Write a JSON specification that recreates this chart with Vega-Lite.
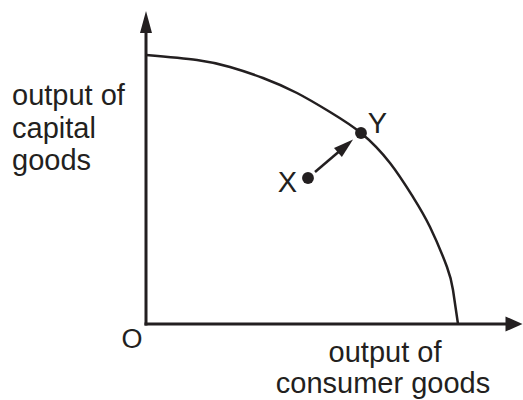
{
  "$schema": "https://vega.github.io/schema/vega-lite/v6.json",
  "width": 523,
  "height": 400,
  "padding": 0,
  "autosize": {"type": "none"},
  "background": "white",
  "config": {"view": {"stroke": null}},
  "datasets": {
    "axes": [{"x": 0, "y": 0, "x2": 0, "y2": 295}, {"x": 0, "y": 0, "x2": 365, "y2": 0}],
    "vhead": [{"x": 0, "y": 302}],
    "hhead": [{"x": 368, "y": 0}],
    "curve": [
      {"x": 0, "y": 269}, {"x": 51, "y": 264}, {"x": 84, "y": 257}, {"x": 117, "y": 246},
      {"x": 151, "y": 231}, {"x": 184, "y": 212}, {"x": 215, "y": 191}, {"x": 244, "y": 161},
      {"x": 267, "y": 127}, {"x": 284, "y": 97}, {"x": 301, "y": 57}, {"x": 307, "y": 34},
      {"x": 312, "y": 0}
    ],
    "move": [{"x": 169, "y": 152, "x2": 199.5, "y2": 178}],
    "movehead": [{"x": 199.5, "y": 178}],
    "points": [{"label": "X", "x": 162, "y": 146}, {"label": "Y", "x": 215, "y": 191}],
    "leftlabels": [
      {"text": "output of", "x": -134, "y": 219},
      {"text": "capital", "x": -134, "y": 186.5},
      {"text": "goods", "x": -134, "y": 154}
    ],
    "centerlabels": [
      {"text": "output of", "x": 239, "y": -38},
      {"text": "consumer goods", "x": 237, "y": -69},
      {"text": "X", "x": 141.5, "y": 132},
      {"text": "Y", "x": 231.5, "y": 191}
    ],
    "origin": [{"text": "O", "x": -14, "y": -24}]
  },
  "layer": [
    {
      "data": {"name": "axes"},
      "mark": {"type": "rule", "strokeWidth": 3, "color": "#231f20", "strokeCap": "square"},
      "encoding": {
        "x": {"field": "x", "type": "quantitative", "scale": {"domain": [-146, 377], "nice": false, "zero": false}, "axis": null},
        "y": {"field": "y", "type": "quantitative", "scale": {"domain": [-76, 324], "nice": false, "zero": false}, "axis": null},
        "x2": {"field": "x2"},
        "y2": {"field": "y2"}
      }
    },
    {
      "data": {"name": "vhead"},
      "mark": {"type": "point", "filled": true, "opacity": 1, "color": "#231f20", "shape": "M0,-1L0.545,1L-0.545,1Z", "size": 484},
      "encoding": {
        "x": {"field": "x", "type": "quantitative"},
        "y": {"field": "y", "type": "quantitative"}
      }
    },
    {
      "data": {"name": "hhead"},
      "mark": {"type": "point", "filled": true, "opacity": 1, "color": "#231f20", "shape": "M1,0L-1,-0.88L-1,0.88Z", "size": 289},
      "encoding": {
        "x": {"field": "x", "type": "quantitative"},
        "y": {"field": "y", "type": "quantitative"}
      }
    },
    {
      "data": {"name": "curve"},
      "mark": {"type": "line", "strokeWidth": 2.5, "color": "#231f20", "interpolate": "natural"},
      "encoding": {
        "x": {"field": "x", "type": "quantitative"},
        "y": {"field": "y", "type": "quantitative"}
      }
    },
    {
      "data": {"name": "move"},
      "mark": {"type": "rule", "strokeWidth": 2.5, "color": "#231f20"},
      "encoding": {
        "x": {"field": "x", "type": "quantitative"},
        "y": {"field": "y", "type": "quantitative"},
        "x2": {"field": "x2"},
        "y2": {"field": "y2"}
      }
    },
    {
      "data": {"name": "movehead"},
      "mark": {"type": "point", "filled": true, "opacity": 1, "color": "#231f20", "shape": "M0,-1L0.6,1L-0.6,1Z", "size": 400, "angle": 49},
      "encoding": {
        "x": {"field": "x", "type": "quantitative"},
        "y": {"field": "y", "type": "quantitative"}
      }
    },
    {
      "data": {"name": "points"},
      "mark": {"type": "circle", "opacity": 1, "color": "#231f20", "size": 140},
      "encoding": {
        "x": {"field": "x", "type": "quantitative"},
        "y": {"field": "y", "type": "quantitative"}
      }
    },
    {
      "data": {"name": "leftlabels"},
      "mark": {"type": "text", "align": "left", "baseline": "alphabetic", "font": "Liberation Sans", "fontSize": 29, "color": "#231f20"},
      "encoding": {
        "x": {"field": "x", "type": "quantitative"},
        "y": {"field": "y", "type": "quantitative"},
        "text": {"field": "text", "type": "nominal"}
      }
    },
    {
      "data": {"name": "centerlabels"},
      "mark": {"type": "text", "align": "center", "baseline": "alphabetic", "font": "Liberation Sans", "fontSize": 29, "color": "#231f20"},
      "encoding": {
        "x": {"field": "x", "type": "quantitative"},
        "y": {"field": "y", "type": "quantitative"},
        "text": {"field": "text", "type": "nominal"}
      }
    },
    {
      "data": {"name": "origin"},
      "mark": {"type": "text", "align": "center", "baseline": "alphabetic", "font": "Liberation Sans", "fontSize": 27, "color": "#231f20"},
      "encoding": {
        "x": {"field": "x", "type": "quantitative"},
        "y": {"field": "y", "type": "quantitative"},
        "text": {"field": "text", "type": "nominal"}
      }
    }
  ]
}
